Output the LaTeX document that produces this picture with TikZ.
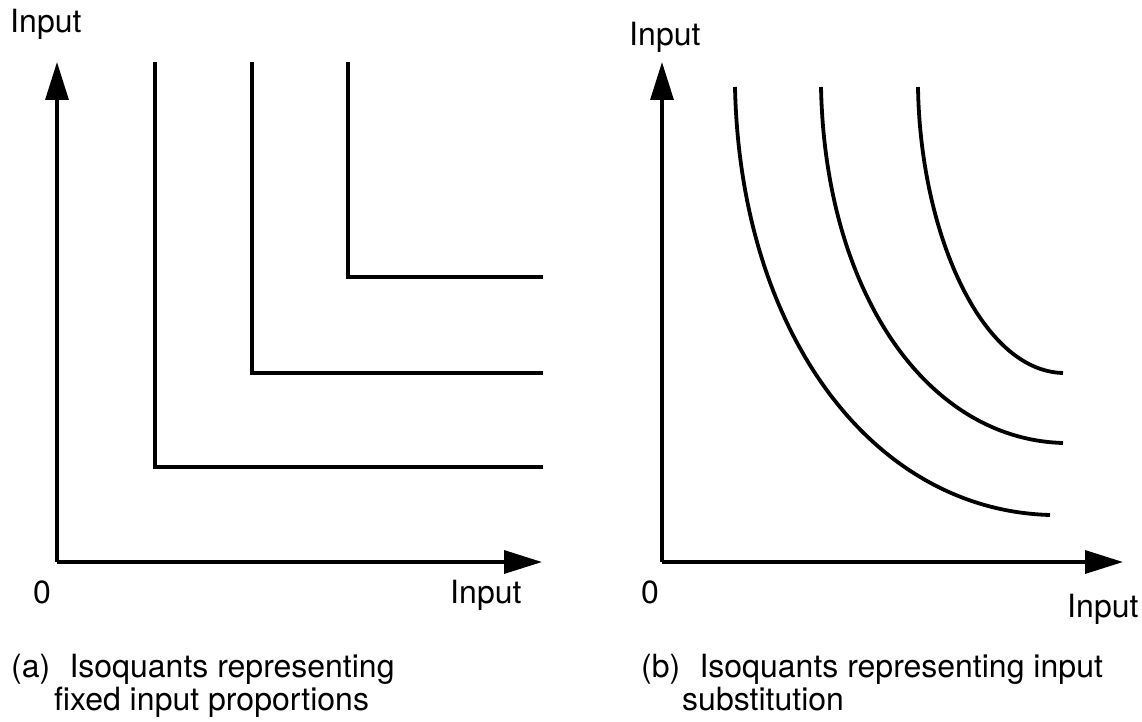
\documentclass[tikz,border=0pt]{standalone}
\usepackage{fontspec}
\setmainfont{TeX Gyre Heros}
\usetikzlibrary{arrows.meta,positioning}

\begin{document}
\begin{tikzpicture}[
    x=1pt, y=-1pt,
    axis/.style={line width=3.4pt, -{Triangle[length=38pt, width=23pt]}},
    iso/.style={line width=3.8pt},
    lbl/.style={anchor=base west, inner sep=0pt, font=\fontsize{32}{36}\selectfont},
  ]
    \useasboundingbox (0,0) rectangle (1142,722);

    % (a) Fixed proportions
    \coordinate (oa) at (57,562);
    \coordinate (ya) at (57,62);
    \coordinate (xa) at (542,562);
    \draw[axis] (oa) -- (ya);
    \draw[axis] (oa) -- (xa);
    \draw[iso] (155,62) |- (543,467);
    \draw[iso] (252,62) |- (543,373);
    \draw[iso] (348,62) |- (543,277);

    \node[lbl] (ya-lbl) at (10,33) {Input};
    \node[lbl] (xa-lbl) at (450,603) {Input};
    \node[lbl] (oa-lbl) at (33,603) {0};
    \node[lbl] (cap-a1) at (11,677) {(a)\hspace{0.6em}Isoquants representing};
    \node[lbl] (cap-a2) at (54,710) {fixed input proportions};

    % (b) Input substitution
    \coordinate (ob) at (662,562);
    \coordinate (yb) at (662,62);
    \coordinate (xb) at (1123,562);
    \draw[axis] (ob) -- (yb);
    \draw[axis] (ob) -- (xb);
    \draw[iso] (735,87) .. controls (740,330) and (870,510) .. (1050,515);
    \draw[iso] (821,87) .. controls (825,290) and (925,439) .. (1063,443);
    \draw[iso] (918,87) .. controls (920,230) and (980,371) .. (1063,373);

    \node[lbl] (yb-lbl) at (629,46) {Input};
    \node[lbl] (xb-lbl) at (1067,617) {Input};
    \node[lbl] (ob-lbl) at (641,603) {0};
    \node[lbl] (cap-b1) at (641,677) {(b)\hspace{0.6em}Isoquants representing input};
    \node[lbl] (cap-b2) at (682,710) {substitution};

  \end{tikzpicture}
\end{document}
